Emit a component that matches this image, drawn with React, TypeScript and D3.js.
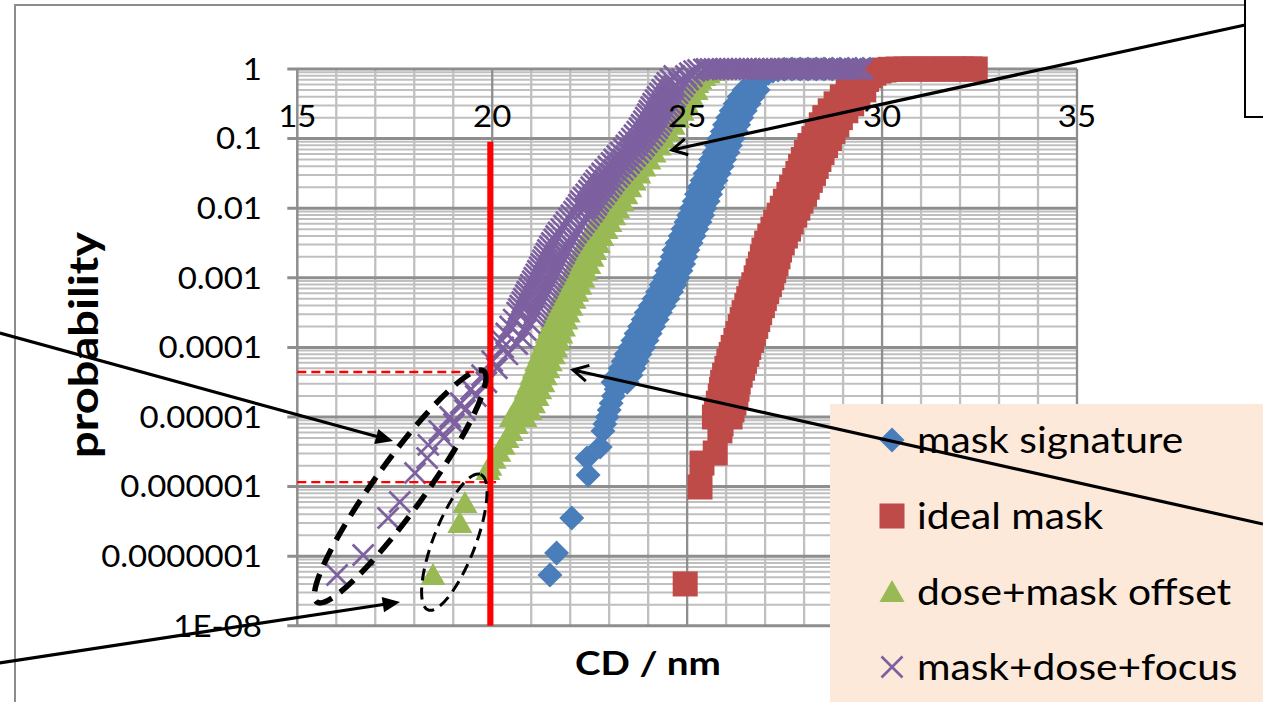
import React from 'react';
import * as d3 from 'd3';

const WIDTH = 1263;
const HEIGHT = 702;

// Cumulative probability of the printed CD for each simulated case: [CD (nm), probability]
const maskSignature: [number, number][] = [
  [21.48, 5.37e-8], [21.65, 1.11e-7], [22.04, 3.54e-7], [22.46, 1.47e-6], [22.43, 2.58e-6], [22.77, 3.71e-6],
  [22.84, 6.31e-6], [22.89, 7.94e-6], [22.95, 1e-5], [23.0, 1.26e-5], [23.05, 1.58e-5], [23.11, 2e-5], [23.18, 2.51e-5],
  [23.1, 3.16e-5], [23.46, 3.16e-5], [23.2, 3.98e-5], [23.56, 3.98e-5], [23.28, 5.01e-5], [23.64, 5.01e-5],
  [23.36, 6.31e-5], [23.72, 6.31e-5], [23.43, 7.94e-5], [23.79, 7.94e-5], [23.53, 1e-4], [23.89, 1e-4],
  [23.61, 1.26e-4], [23.97, 1.26e-4], [23.69, 1.58e-4], [24.05, 1.58e-4], [23.78, 2e-4], [24.14, 2e-4],
  [23.87, 2.51e-4], [24.23, 2.51e-4], [23.95, 3.16e-4], [24.31, 3.16e-4], [24.05, 3.98e-4], [24.41, 3.98e-4],
  [24.15, 5.01e-4], [24.51, 5.01e-4], [24.24, 6.31e-4], [24.6, 6.31e-4], [24.33, 7.94e-4], [24.69, 7.94e-4],
  [24.41, 1e-3], [24.77, 1e-3], [24.48, 1.26e-3], [24.84, 1.26e-3], [24.55, 1.58e-3], [24.91, 1.58e-3],
  [24.61, 2e-3], [24.97, 2e-3], [24.66, 2.51e-3], [25.02, 2.51e-3], [24.74, 3.16e-3], [25.1, 3.16e-3],
  [24.82, 3.98e-3], [25.18, 3.98e-3], [24.89, 5.01e-3], [25.25, 5.01e-3], [24.97, 6.31e-3], [25.33, 6.31e-3],
  [25.04, 7.94e-3], [25.4, 7.94e-3], [25.1, 1e-2], [25.46, 1e-2], [25.18, 1.26e-2], [25.54, 1.26e-2],
  [25.24, 1.58e-2], [25.6, 1.58e-2], [25.3, 2e-2], [25.66, 2e-2], [25.38, 2.51e-2], [25.74, 2.51e-2],
  [25.46, 3.16e-2], [25.82, 3.16e-2], [25.54, 3.98e-2], [25.9, 3.98e-2], [25.6, 5.01e-2], [25.96, 5.01e-2],
  [25.69, 6.31e-2], [26.05, 6.31e-2], [25.75, 7.94e-2], [26.11, 7.94e-2], [25.82, 0.1], [26.18, 0.1],
  [25.9, 0.126], [26.26, 0.126], [25.96, 0.158], [26.32, 0.158], [26.04, 0.2], [26.4, 0.2],
  [26.13, 0.251], [26.49, 0.251], [26.23, 0.316], [26.59, 0.316], [26.33, 0.398], [26.69, 0.398],
  [26.46, 0.501], [26.82, 0.501],
  [26.79, 0.631], [26.87, 0.708], [26.97, 0.794], [27.08, 0.871], [27.2, 0.933], [27.33, 0.966], [27.49, 0.989],
  [27.69, 0.999], [27.9, 0.9992], [28.1, 0.9993], [28.31, 0.9994], [28.51, 0.9995], [28.72, 0.9996],
  [28.92, 0.9997], [29.13, 0.9998], [29.33, 0.9999], [29.51, 0.99995], [29.69, 1],
];

const idealMask: [number, number][] = [
  [24.95, 3.99e-8], [25.33, 9.87e-7], [25.38, 2.18e-6], [25.72, 3.04e-6],
  [25.84, 6.31e-6], [25.87, 7.94e-6],
  [25.7, 1e-5], [26.1, 1e-5], [25.75, 1.26e-5], [26.15, 1.26e-5], [25.8, 1.58e-5], [26.2, 1.58e-5],
  [25.85, 2e-5], [26.25, 2e-5], [25.88, 2.51e-5], [26.28, 2.51e-5], [25.91, 3.16e-5], [26.31, 3.16e-5],
  [25.96, 3.98e-5], [26.36, 3.98e-5], [26.02, 5.01e-5], [26.42, 5.01e-5], [26.07, 6.31e-5], [26.47, 6.31e-5],
  [26.13, 7.94e-5], [26.53, 7.94e-5], [26.18, 1e-4], [26.58, 1e-4], [26.25, 1.26e-4], [26.65, 1.26e-4],
  [26.3, 1.58e-4], [26.7, 1.58e-4], [26.36, 2e-4], [26.76, 2e-4], [26.41, 2.51e-4], [26.81, 2.51e-4],
  [26.46, 3.16e-4], [26.86, 3.16e-4], [26.53, 3.98e-4], [26.93, 3.98e-4], [26.58, 5.01e-4], [26.98, 5.01e-4],
  [26.64, 6.31e-4], [27.04, 6.31e-4], [26.71, 7.94e-4], [27.11, 7.94e-4], [26.77, 1e-3], [27.17, 1e-3],
  [26.82, 1.26e-3], [27.22, 1.26e-3], [26.88, 1.58e-3], [27.28, 1.58e-3], [26.93, 2e-3], [27.33, 2e-3],
  [26.97, 2.51e-3], [27.37, 2.51e-3], [27.04, 3.16e-3], [27.44, 3.16e-3], [27.12, 3.98e-3], [27.52, 3.98e-3],
  [27.2, 5.01e-3], [27.6, 5.01e-3], [27.27, 6.31e-3], [27.67, 6.31e-3], [27.36, 7.94e-3], [27.76, 7.94e-3],
  [27.44, 1e-2], [27.84, 1e-2], [27.52, 1.26e-2], [27.92, 1.26e-2], [27.61, 1.58e-2], [28.01, 1.58e-2],
  [27.68, 2e-2], [28.08, 2e-2], [27.76, 2.51e-2], [28.16, 2.51e-2], [27.84, 3.16e-2], [28.24, 3.16e-2],
  [27.91, 3.98e-2], [28.31, 3.98e-2], [27.98, 5.01e-2], [28.38, 5.01e-2], [28.06, 6.31e-2], [28.46, 6.31e-2],
  [28.15, 7.94e-2], [28.55, 7.94e-2], [28.25, 0.1], [28.65, 0.1], [28.34, 0.126], [28.74, 0.126],
  [28.44, 0.158], [28.84, 0.158], [28.53, 0.2], [28.93, 0.2], [28.67, 0.251], [29.07, 0.251],
  [28.82, 0.316], [29.22, 0.316], [28.98, 0.398], [29.38, 0.398], [29.13, 0.501], [29.53, 0.501],
  [29.51, 0.631], [29.6, 0.708], [29.69, 0.794], [29.79, 0.871], [29.92, 0.933], [30.05, 0.966], [30.21, 0.989],
  [30.41, 0.999], [30.62, 0.9992], [30.82, 0.9993], [31.03, 0.9994], [31.23, 0.9995], [31.44, 0.9996],
  [31.64, 0.9997], [31.85, 0.9998], [32.05, 0.9999], [32.26, 0.99995], [32.39, 1],
];

const doseMaskOffset: [number, number][] = [
  [18.48, 5.37e-8], [19.17, 3.0e-7], [19.3, 5.81e-7], [19.89, 1.73e-6],
  [19.94, 2.0e-6], [20.05, 2.51e-6], [20.17, 3.16e-6], [20.28, 3.98e-6], [20.38, 5.01e-6], [20.48, 6.31e-6], [20.61, 7.94e-6],
  [20.49, 1e-5], [20.84, 1e-5], [20.62, 1.26e-5], [20.97, 1.26e-5], [20.71, 1.58e-5], [21.06, 1.58e-5],
  [20.8, 2e-5], [21.15, 2e-5], [20.87, 2.51e-5], [21.22, 2.51e-5], [20.95, 3.16e-5], [21.3, 3.16e-5],
  [21.01, 3.98e-5], [21.36, 3.98e-5], [21.08, 5.01e-5], [21.43, 5.01e-5], [21.14, 6.31e-5], [21.49, 6.31e-5],
  [21.22, 7.94e-5], [21.57, 7.94e-5], [21.28, 1e-4], [21.63, 1e-4], [21.35, 1.26e-4], [21.7, 1.26e-4],
  [21.41, 1.58e-4], [21.76, 1.58e-4], [21.48, 2e-4], [21.83, 2e-4], [21.54, 2.51e-4], [21.89, 2.51e-4],
  [21.6, 3.16e-4], [21.95, 3.16e-4], [21.67, 3.98e-4], [22.02, 3.98e-4], [21.75, 5.01e-4], [22.1, 5.01e-4],
  [21.82, 6.31e-4], [22.17, 6.31e-4], [21.9, 7.94e-4], [22.25, 7.94e-4], [21.98, 1e-3], [22.33, 1e-3],
  [22.05, 1.26e-3], [22.4, 1.26e-3], [22.13, 1.58e-3], [22.48, 1.58e-3], [22.21, 2e-3], [22.56, 2e-3],
  [22.28, 2.51e-3], [22.63, 2.51e-3], [22.37, 3.16e-3], [22.72, 3.16e-3], [22.46, 3.98e-3], [22.81, 3.98e-3],
  [22.57, 5.01e-3], [22.92, 5.01e-3], [22.67, 6.31e-3], [23.02, 6.31e-3], [22.77, 7.94e-3], [23.12, 7.94e-3],
  [22.87, 1e-2], [23.22, 1e-2], [22.98, 1.26e-2], [23.33, 1.26e-2], [23.08, 1.58e-2], [23.43, 1.58e-2],
  [23.18, 2e-2], [23.53, 2e-2], [23.29, 2.51e-2], [23.64, 2.51e-2], [23.41, 3.16e-2], [23.76, 3.16e-2],
  [23.54, 3.98e-2], [23.89, 3.98e-2], [23.67, 5.01e-2], [24.02, 5.01e-2], [23.8, 6.31e-2], [24.15, 6.31e-2],
  [23.93, 7.94e-2], [24.28, 7.94e-2], [24.05, 0.1], [24.4, 0.1], [24.17, 0.126], [24.52, 0.126],
  [24.29, 0.158], [24.64, 0.158], [24.4, 0.2], [24.75, 0.2], [24.52, 0.251], [24.87, 0.251],
  [24.64, 0.316], [24.99, 0.316], [24.77, 0.398], [25.12, 0.398], [24.88, 0.501], [25.23, 0.501],
  [25.25, 0.631], [25.33, 0.708], [25.43, 0.794], [25.54, 0.871], [25.66, 0.933], [25.79, 0.966], [25.95, 0.989],
  [26.15, 0.999], [26.36, 0.9991], [26.56, 0.9992], [26.77, 0.9993], [26.97, 0.9994], [27.18, 0.9995],
  [27.38, 0.9996], [27.59, 0.9997], [27.79, 0.9998], [28.0, 0.9999], [28.2, 0.99993], [28.41, 0.99996], [28.56, 1],
];

const maskDoseFocus: [number, number][] = [
  [16.02, 5.37e-8], [16.69, 1.04e-7], [17.33, 3.54e-7], [17.63, 6.01e-7], [18.02, 1.57e-6], [18.33, 2.58e-6],
  [18.36, 3.98e-6], [18.76, 5.01e-6], [18.64, 6.31e-6], [19.02, 7.94e-6], [18.92, 1e-5], [19.3, 1.26e-5],
  [19.19, 1.58e-5], [19.58, 2e-5], [19.46, 2.51e-5], [19.85, 3.16e-5], [19.74, 3.98e-5], [20.12, 5.01e-5],
  [20.0, 6.31e-5], [20.39, 7.94e-5], [20.28, 1e-4],
  [20.64, 1.12e-4], [20.25, 1.26e-4], [20.75, 1.41e-4], [20.36, 1.58e-4], [20.86, 1.78e-4], [20.46, 2e-4],
  [20.96, 2.24e-4], [20.55, 2.51e-4], [21.05, 2.82e-4],
  [20.64, 3.16e-4], [21.09, 3.16e-4], [20.68, 3.55e-4], [21.13, 3.55e-4], [20.72, 3.98e-4], [21.17, 3.98e-4],
  [20.77, 4.47e-4], [21.22, 4.47e-4], [20.81, 5.01e-4], [21.26, 5.01e-4], [20.86, 5.62e-4], [21.31, 5.62e-4],
  [20.9, 6.31e-4], [21.35, 6.31e-4], [20.95, 7.08e-4], [21.4, 7.08e-4], [20.99, 7.94e-4], [21.44, 7.94e-4],
  [21.04, 8.91e-4], [21.49, 8.91e-4], [21.08, 1e-3], [21.53, 1e-3], [21.13, 1.12e-3], [21.58, 1.12e-3],
  [21.17, 1.26e-3], [21.62, 1.26e-3], [21.22, 1.41e-3], [21.67, 1.41e-3], [21.26, 1.58e-3], [21.71, 1.58e-3],
  [21.3, 1.78e-3], [21.75, 1.78e-3], [21.34, 2e-3], [21.79, 2e-3], [21.39, 2.24e-3], [21.84, 2.24e-3],
  [21.43, 2.51e-3], [21.88, 2.51e-3], [21.48, 2.82e-3], [21.93, 2.82e-3], [21.53, 3.16e-3], [21.98, 3.16e-3],
  [21.59, 3.55e-3], [22.04, 3.55e-3], [21.64, 3.98e-3], [22.09, 3.98e-3], [21.7, 4.47e-3], [22.15, 4.47e-3],
  [21.77, 5.01e-3], [22.22, 5.01e-3], [21.84, 5.62e-3], [22.29, 5.62e-3], [21.9, 6.31e-3], [22.35, 6.31e-3],
  [21.97, 7.08e-3], [22.42, 7.08e-3], [22.03, 7.94e-3], [22.48, 7.94e-3], [22.1, 8.91e-3], [22.55, 8.91e-3],
  [22.16, 1e-2], [22.39, 1e-2], [22.61, 1e-2], [22.22, 1.12e-2], [22.45, 1.12e-2], [22.67, 1.12e-2],
  [22.27, 1.26e-2], [22.5, 1.26e-2], [22.72, 1.26e-2], [22.34, 1.41e-2], [22.57, 1.41e-2], [22.79, 1.41e-2],
  [22.41, 1.58e-2], [22.64, 1.58e-2], [22.86, 1.58e-2], [22.48, 1.78e-2], [22.71, 1.78e-2], [22.93, 1.78e-2],
  [22.54, 2e-2], [22.77, 2e-2], [22.99, 2e-2], [22.61, 2.24e-2], [22.84, 2.24e-2], [23.06, 2.24e-2],
  [22.67, 2.51e-2], [22.9, 2.51e-2], [23.12, 2.51e-2], [22.75, 2.82e-2], [22.98, 2.82e-2], [23.2, 2.82e-2],
  [22.82, 3.16e-2], [23.05, 3.16e-2], [23.27, 3.16e-2], [22.9, 3.55e-2], [23.13, 3.55e-2], [23.35, 3.55e-2],
  [22.98, 3.98e-2], [23.21, 3.98e-2], [23.43, 3.98e-2], [23.06, 4.47e-2], [23.29, 4.47e-2], [23.51, 4.47e-2],
  [23.13, 5.01e-2], [23.36, 5.01e-2], [23.58, 5.01e-2], [23.21, 5.62e-2], [23.44, 5.62e-2], [23.66, 5.62e-2],
  [23.29, 6.31e-2], [23.52, 6.31e-2], [23.74, 6.31e-2], [23.37, 7.08e-2], [23.6, 7.08e-2], [23.82, 7.08e-2],
  [23.44, 7.94e-2], [23.67, 7.94e-2], [23.89, 7.94e-2], [23.51, 8.91e-2], [23.74, 8.91e-2], [23.96, 8.91e-2],
  [23.58, 0.1], [23.81, 0.1], [24.03, 0.1], [23.65, 0.112], [23.88, 0.112], [24.1, 0.112],
  [23.72, 0.126], [23.95, 0.126], [24.17, 0.126], [23.78, 0.141], [24.01, 0.141], [24.23, 0.141],
  [23.83, 0.158], [24.06, 0.158], [24.28, 0.158], [23.89, 0.178], [24.12, 0.178], [24.34, 0.178],
  [23.94, 0.2], [24.17, 0.2], [24.39, 0.2], [23.99, 0.224], [24.22, 0.224], [24.44, 0.224],
  [24.03, 0.251], [24.26, 0.251], [24.48, 0.251], [24.08, 0.282], [24.31, 0.282], [24.53, 0.282],
  [24.13, 0.316], [24.36, 0.316], [24.58, 0.316], [24.19, 0.355], [24.42, 0.355], [24.64, 0.355],
  [24.24, 0.398], [24.47, 0.398], [24.69, 0.398], [24.3, 0.447], [24.53, 0.447], [24.75, 0.447],
  [24.36, 0.501], [24.59, 0.501], [24.81, 0.501], [24.43, 0.562], [24.66, 0.562], [24.88, 0.562],
  [24.49, 0.631], [24.79, 0.631], [24.94, 0.631], [24.57, 0.708], [24.87, 0.708], [25.02, 0.708],
  [24.67, 0.794], [24.97, 0.794], [25.12, 0.794],
  [25.07, 0.871], [25.18, 0.933], [25.28, 0.966], [25.43, 0.989],
  [25.5, 0.999], [25.6, 0.9991], [25.7, 0.9992], [25.8, 0.9993], [25.9, 0.9994], [26.0, 0.9995],
  [26.1, 0.9996], [26.2, 0.9997], [26.3, 0.9998], [26.4, 0.9999],
  [26.5, 1], [26.6, 1], [26.7, 1], [26.8, 1], [26.9, 1], [27.0, 1], [27.1, 1], [27.2, 1], [27.3, 1], [27.4, 1],
  [27.5, 1], [27.6, 1], [27.7, 1], [27.8, 1], [27.9, 1], [28.0, 1], [28.1, 1], [28.2, 1], [28.3, 1], [28.4, 1],
  [28.5, 1], [28.6, 1], [28.7, 1], [28.8, 1], [28.9, 1], [29.0, 1], [29.1, 1], [29.2, 1], [29.3, 1], [29.4, 1], [29.5, 1],
];

const seriesNames = ['mask signature', 'ideal mask', 'dose+mask offset', 'mask+dose+focus'];
const seriesColors = ['#4A7EBB', '#BE4B48', '#98B954', '#7D60A0'];
const seriesShapes = ['diamond', 'square', 'triangle', 'cross'];

const xTickValues = [15, 20, 25, 30, 35];
const yTickValues = [1, 0.1, 0.01, 0.001, 0.0001, 0.00001, 0.000001, 0.0000001, 1e-8];
const yTickLabels = ['1', '0.1', '0.01', '0.001', '0.0001', '0.00001', '0.000001', '0.0000001', '1E-08'];

// CD limit and the failure probabilities read at that limit
const limitCD = 19.95;
const limitTopP = 0.09;
const limitBottomP = 1e-8;
const failP = [4.43e-5, 1.16e-6];
const failEndCD = [19.85, 20.1];

// Annotation arrows, from tail to tip
const arrowFromCD = [39.31, 7.37, 7.37, 39.77];
const arrowFromP = [4.29, 1.61e-4, 2.92e-9, 2.9e-7];
const arrowToCD = [24.61, 17.455, 17.635, 22.073];
const arrowToP = [0.0686, 4.52e-6, 2.2e-8, 4.73e-5];
const arrowHeads = ['open', 'filled', 'filled', 'open'];

// Dashed outlines around the low-CD tails: ends of the long axis
const outlineACD = [15.5, 18.355];
const outlineAP = [2.2e-8, 1.69e-8];
const outlineBCD = [19.78, 19.7];
const outlineBP = [4.6e-5, 1.5e-6];
const outlineHalfWidth = [25, 21];
const outlineStroke = [5.5, 3];
const outlineDash = ['18 10', '12 7'];

const PLOT = { left: 297.3, right: 1077, top: 69, bottom: 625.8 };
const SX = 1.1;
const FONT = 'Lato, "Open Sans", sans-serif';

function markerPath(shape: string): string {
  if (shape === 'diamond') return 'M0,-12.5L12.5,0L0,12.5L-12.5,0Z';
  if (shape === 'square') return 'M-12.5,-12.5H12.5V12.5H-12.5Z';
  if (shape === 'triangle') return 'M0,-12L12.5,10L-12.5,10Z';
  return 'M-10.5,-10.5L10.5,10.5M10.5,-10.5L-10.5,10.5';
}

function Marker({ shape, color, x, y }: { shape: string; color: string; x: number; y: number }) {
  const d = markerPath(shape);
  if (shape === 'cross') {
    return <path d={d} transform={`translate(${x},${y})`} fill="none" stroke={color} strokeWidth={2.7} />;
  }
  return <path d={d} transform={`translate(${x},${y})`} fill={color} />;
}

function Label(props: { x: number; y: number; anchor?: string; size: number; weight?: string; children: React.ReactNode }) {
  const { x, y, anchor = 'start', size, weight = 'normal', children } = props;
  return (
    <text transform={`translate(${x},${y}) scale(${SX},1)`} textAnchor={anchor} fontSize={size} fontWeight={weight} fontFamily={FONT} fill="#000">
      {children}
    </text>
  );
}

export default function App() {
  const x = d3.scaleLinear().domain([15, 35]).range([PLOT.left, PLOT.right]);
  const y = d3.scaleLog().domain([1e-8, 1]).range([PLOT.bottom, PLOT.top]);

  const series = [maskSignature, idealMask, doseMaskOffset, maskDoseFocus];

  const minorY: number[] = [];
  for (let e = -8; e < 0; e++) for (let k = 2; k <= 9; k++) minorY.push(k * Math.pow(10, e));
  const minorX = d3.range(16, 35).filter((v) => v % 5 !== 0);
  const majorX = [20, 25, 30, 35];

  const legendRows = [440, 516, 592, 667];

  return (
    <svg width={WIDTH} height={HEIGHT} style={{ position: 'absolute', left: 0, top: 0, background: '#fff' }}>
      <rect x={0} y={0} width={WIDTH} height={HEIGHT} fill="#fff" />
      {/* chart frame */}
      <rect x={15} y={5} width={1400} height={900} fill="#fff" stroke="#8c8c8c" strokeWidth={2} />

      {/* grid */}
      <g>
        {minorY.map((v, i) => (
          <line key={'my' + i} x1={PLOT.left} x2={PLOT.right} y1={y(v)} y2={y(v)} stroke="#bfbfbf" strokeWidth={2} />
        ))}
        {minorX.map((v) => (
          <line key={'mx' + v} x1={x(v)} x2={x(v)} y1={PLOT.top} y2={PLOT.bottom} stroke="#c0c0c0" strokeWidth={2.3} />
        ))}
        {majorX.map((v) => (
          <line key={'MX' + v} x1={x(v)} x2={x(v)} y1={PLOT.top} y2={PLOT.bottom} stroke="#8e8e8e" strokeWidth={2.3} />
        ))}
        {yTickValues.map((v) => (
          <line key={'MY' + v} x1={PLOT.left - 10} x2={PLOT.right} y1={y(v)} y2={y(v)} stroke="#8e8e8e" strokeWidth={3} />
        ))}
        <line x1={PLOT.left} x2={PLOT.left} y1={PLOT.top} y2={PLOT.bottom} stroke="#8e8e8e" strokeWidth={2.5} />
      </g>

      {/* y axis labels and titles */}
      {yTickValues.map((v, i) => (
        <Label key={'yl' + i} x={262} y={y(v) + 10.8} anchor="end" size={30}>{yTickLabels[i]}</Label>
      ))}
      <text x={648} y={675} textAnchor="middle" fontSize={32} fontWeight="bold" fontFamily={FONT} textLength={146} lengthAdjust="spacingAndGlyphs">CD / nm</text>
      <text transform="translate(98,345) rotate(-90)" textAnchor="middle" fontSize={40} fontWeight="bold" fontFamily={FONT} textLength={226} lengthAdjust="spacingAndGlyphs">probability</text>

      {/* data */}
      {series.map((s, si) => (
        <g key={'s' + si}>
          {s.map(([cd, p], i) => (
            <Marker key={i} shape={seriesShapes[si]} color={seriesColors[si]} x={x(cd)} y={y(p)} />
          ))}
        </g>
      ))}

      {/* x axis labels sit on top of the curves */}
      {xTickValues.map((v) => (
        <Label key={'xl' + v} x={x(v)} y={127} anchor="middle" size={30}>{String(v)}</Label>
      ))}

      {/* CD limit and failure probability levels */}
      {failP.map((p, i) => (
        <line key={'fp' + i} x1={PLOT.left} x2={x(failEndCD[i])} y1={y(p)} y2={y(p)} stroke="#ff0000" strokeWidth={2.4} strokeDasharray="9 5" />
      ))}
      <line x1={x(limitCD)} x2={x(limitCD)} y1={y(limitTopP)} y2={y(limitBottomP)} stroke="#ff0000" strokeWidth={6} />

      {/* legend */}
      <rect x={830} y={404} width={450} height={320} fill="#FDE9D9" />
      {seriesNames.map((name, i) => (
        <g key={'lg' + i}>
          <Marker shape={seriesShapes[i]} color={seriesColors[i]} x={892} y={legendRows[i]} />
          <Label x={917} y={legendRows[i] + 13} size={37}>{name}</Label>
        </g>
      ))}

      {/* dashed outlines */}
      {outlineACD.map((_, i) => {
        const ax = x(outlineACD[i]), ay = y(outlineAP[i]);
        const bx = x(outlineBCD[i]), by = y(outlineBP[i]);
        const cx = (ax + bx) / 2, cy = (ay + by) / 2;
        const rx = Math.hypot(bx - ax, by - ay) / 2;
        const ang = (Math.atan2(by - ay, bx - ax) * 180) / Math.PI;
        return (
          <ellipse key={'el' + i} cx={0} cy={0} rx={rx} ry={outlineHalfWidth[i]} transform={`translate(${cx},${cy}) rotate(${ang})`} fill="none" stroke="#000" strokeWidth={outlineStroke[i]} strokeDasharray={outlineDash[i]} />
        );
      })}

      {/* callout box */}
      <rect x={1245} y={-10} width={60} height={127} fill="#fff" stroke="#000" strokeWidth={2} />

      {/* arrows */}
      {arrowFromCD.map((_, i) => {
        const x1 = x(arrowFromCD[i]), y1 = y(arrowFromP[i]);
        const x2 = x(arrowToCD[i]), y2 = y(arrowToP[i]);
        const a = Math.atan2(y2 - y1, x2 - x1);
        const open = arrowHeads[i] === 'open';
        const len = open ? 17 : 19, spread = open ? 0.5 : 0.42;
        const hx1 = x2 - len * Math.cos(a - spread), hy1 = y2 - len * Math.sin(a - spread);
        const hx2 = x2 - len * Math.cos(a + spread), hy2 = y2 - len * Math.sin(a + spread);
        return (
          <g key={'ar' + i}>
            <line x1={x1} y1={y1} x2={open ? x2 : x2 - 12 * Math.cos(a)} y2={open ? y2 : y2 - 12 * Math.sin(a)} stroke="#000" strokeWidth={3.2} />
            {open ? (
              <path d={`M${hx1},${hy1}L${x2},${y2}L${hx2},${hy2}`} fill="none" stroke="#000" strokeWidth={3} />
            ) : (
              <path d={`M${hx1},${hy1}L${x2},${y2}L${hx2},${hy2}Z`} fill="#000" />
            )}
          </g>
        );
      })}
    </svg>
  );
}
